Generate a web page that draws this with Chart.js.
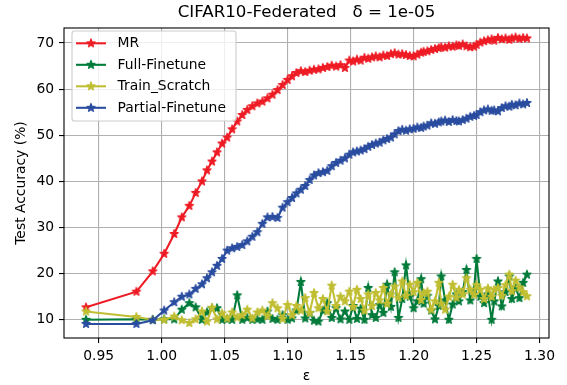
<!DOCTYPE html>
<html><head><meta charset="utf-8">
<script src="https://cdn.jsdelivr.net/npm/chart.js@4.4.1/dist/chart.umd.min.js"></script>
<style>html,body{margin:0;padding:0;background:#fff;}canvas{display:block;}</style>
</head><body>
<canvas id="c" width="567" height="385"></canvas>
<script>
const epsilon = [0.940,0.980,0.993,1.002,1.010,1.016,1.022,1.027,1.032,1.036,1.040,1.044,1.048,1.052,1.056,1.060,1.064,1.068,1.072,1.076,1.080,1.084,1.088,1.092,1.096,1.100,
1.1035,1.107,1.1105,1.114,1.1175,1.121,1.1245,1.128,1.1315,1.135,1.1385,1.142,1.1455,1.149,
1.152,1.155,1.158,1.161,1.164,1.167,1.170,1.173,1.176,1.179,1.182,1.185,1.188,1.191,1.194,1.197,1.200,
1.203,1.206,1.208,1.211,1.214,1.217,1.220,1.222,1.225,1.228,1.231,1.234,1.236,1.239,1.242,1.245,1.248,1.250,1.253,1.256,1.259,1.262,1.264,1.267,1.270,1.273,1.276,1.278,1.281,1.284,1.287,1.290];
const mr = [12.7,16.1,20.5,24.3,28.6,32.2,34.7,37.5,40.0,42.4,44.3,46.3,48.2,49.5,51.3,53.0,54.4,55.5,56.3,56.9,57.3,58.0,58.8,59.8,60.9,62.0,
62.8,63.5,63.9,63.7,64.0,64.2,64.3,64.6,64.8,65.1,64.9,65.2,64.6,66.2,
66.0,66.4,66.2,66.8,66.6,66.9,67.1,66.9,67.3,67.2,67.6,67.8,67.5,67.6,67.4,67.2,67.1,
67.5,67.9,68.1,68.2,68.5,68.7,68.9,69.1,69.0,69.3,69.2,69.5,69.4,69.7,69.3,69.1,69.2,69.6,70.1,70.4,70.6,70.8,70.5,71.1,70.8,71.0,70.7,71.0,71.2,70.9,71.1,71.0];
const fullFinetune = [10.0,10.1,10.0,10.1,10.1,12.2,13.6,12.7,10.0,11.6,12.5,12.5,10.0,10.1,10.0,15.3,10.0,10.4,10.0,10.1,10.0,11.8,10.2,10.0,11.0,10.0,
10.3,12.0,18.2,10.3,11.5,9.8,9.6,12.0,13.6,10.4,12.5,10.1,11.8,10.0,
13.0,10.2,12.4,10.0,16.9,11.0,10.4,13.2,11.5,17.6,12.8,20.3,10.4,14.5,21.8,15.0,12.5,
14.0,18.8,13.5,15.2,12.0,10.1,13.0,19.4,14.2,10.0,13.3,15.5,14.0,16.0,20.8,14.2,16.5,23.2,15.0,13.6,15.5,10.0,14.0,18.3,12.9,16.0,19.4,14.5,17.0,14.7,18.0,19.8];
const trainScratch = [11.8,10.6,10.0,10.0,10.7,9.9,9.3,10.1,11.8,9.6,12.6,10.1,11.4,10.3,11.6,10.5,11.0,12.2,10.3,11.6,12.0,10.8,13.6,12.5,10.2,13.2,
11.0,13.0,12.0,14.7,11.5,15.8,12.5,14.5,11.8,17.4,13.0,15.0,14.0,16.1,
12.8,16.5,14.5,12.0,15.5,13.0,15.8,14.2,16.9,13.5,15.5,17.2,14.8,18.3,15.2,17.6,16.0,
18.0,14.3,15.8,16.1,12.2,14.0,18.0,13.5,12.2,15.0,17.6,14.8,16.5,15.5,19.0,16.5,15.4,17.5,16.5,14.5,16.8,15.0,16.5,16.9,15.2,17.5,19.8,16.2,18.5,17.0,16.0,15.1];
const partialFinetune = [9.1,9.1,9.9,12.0,13.8,15.0,15.5,16.7,17.7,19.0,20.3,21.7,23.2,25.0,25.5,25.8,26.2,27.0,28.0,29.0,30.8,32.2,32.3,32.1,34.3,35.5,
36.4,37.4,38.2,39.0,40.3,41.3,41.8,42.0,42.3,43.3,44.0,44.5,45.0,45.8,
46.3,46.5,46.7,47.0,47.5,47.9,48.2,48.4,48.9,49.2,49.5,50.2,50.9,51.2,51.0,51.3,51.4,
51.7,51.6,51.9,52.1,52.6,52.5,52.8,53.0,53.2,52.9,53.3,53.1,53.0,53.3,53.6,54.0,54.2,54.4,55.0,55.4,55.6,55.3,55.4,55.2,55.9,56.3,56.2,56.6,56.5,56.9,56.7,57.0];
const xTicks = [0.95,1.00,1.05,1.10,1.15,1.20,1.25,1.30];
const yTicks = [10,20,30,40,50,60,70];
const seriesNames = ['MR','Full-Finetune','Train_Scratch','Partial-Finetune'];
const seriesColors = ['#ee1c25','#007b3a','#c0be32','#2a4da0'];
const titleText = 'CIFAR10-Federated   \u03b4 = 1e-05';
const xLabel = '\u03b5';
const yLabel = 'Test Accuracy (%)';

const FONT = '"DejaVu Sans", "Liberation Sans", sans-serif';

function starImage(color){
  const s = 16, c = document.createElement('canvas');
  c.width = s; c.height = s;
  const g = c.getContext('2d');
  const R = 4.17, r = R * 0.381966;
  g.beginPath();
  for (let k = 0; k < 10; k++) {
    const ang = -Math.PI/2 + k*Math.PI/5;
    const rad = k % 2 === 0 ? R : r;
    const px = s/2 + rad*Math.cos(ang), py = s/2 + rad*Math.sin(ang);
    if (k === 0) g.moveTo(px, py); else g.lineTo(px, py);
  }
  g.closePath();
  g.fillStyle = color; g.fill();
  g.lineWidth = 1.39; g.lineJoin = 'round'; g.strokeStyle = color; g.stroke();
  return c;
}
const stars = seriesColors.map(starImage);
const seriesValues = [mr, fullFinetune, trainScratch, partialFinetune];

const datasets = seriesValues.map((vals, i) => ({
  label: seriesNames[i],
  data: epsilon.map((x, j) => ({x: x, y: vals[j]})),
  borderColor: seriesColors[i],
  backgroundColor: seriesColors[i],
  borderWidth: 2.08,
  tension: 0,
  pointStyle: stars[i],
  pointRadius: 4,
  pointHoverRadius: 4,
  order: 3 - i
}));

const decor = {
  id: 'decor',
  afterDraw(chart) {
    const ctx = chart.ctx, a = chart.chartArea;
    ctx.save();
    ctx.strokeStyle = '#000'; ctx.lineWidth = 1.1;
    ctx.strokeRect(a.left, a.top, a.right - a.left, a.bottom - a.top);
    ctx.fillStyle = '#000';
    ctx.font = '16.67px ' + FONT;
    ctx.textAlign = 'center'; ctx.textBaseline = 'alphabetic';
    ctx.fillText(titleText, (a.left + a.right)/2, a.top - 11);
    const lx = a.left + 8, ly = a.top + 3, lw = 164, lh = 90, rad = 2.8;
    ctx.beginPath();
    ctx.moveTo(lx + rad, ly);
    ctx.arcTo(lx + lw, ly, lx + lw, ly + lh, rad);
    ctx.arcTo(lx + lw, ly + lh, lx, ly + lh, rad);
    ctx.arcTo(lx, ly + lh, lx, ly, rad);
    ctx.arcTo(lx, ly, lx + lw, ly, rad);
    ctx.closePath();
    ctx.fillStyle = 'rgba(255,255,255,0.8)'; ctx.fill();
    ctx.strokeStyle = '#cccccc'; ctx.lineWidth = 1.1; ctx.stroke();
    ctx.font = '13.89px ' + FONT;
    ctx.textAlign = 'left'; ctx.textBaseline = 'middle';
    seriesNames.forEach((name, i) => {
      const y = ly + 12.3 + i*21.5;
      ctx.strokeStyle = seriesColors[i]; ctx.lineWidth = 2.08;
      ctx.beginPath(); ctx.moveTo(lx + 4, y); ctx.lineTo(lx + 34, y); ctx.stroke();
      ctx.drawImage(stars[i], lx + 19 - 8, y - 8);
      ctx.fillStyle = '#000';
      ctx.fillText(name, lx + 45.6, y + 0.5);
    });
    ctx.restore();
  }
};

new Chart(document.getElementById('c'), {
  type: 'line',
  data: { datasets: datasets },
  options: {
    responsive: false,
    animation: false,
    devicePixelRatio: 1,
    layout: { padding: { left: 0, right: 18, top: 28, bottom: 0 } },
    plugins: { legend: { display: false }, title: { display: false }, tooltip: { enabled: false } },
    scales: {
      x: {
        type: 'linear', min: 0.9225, max: 1.3075,
        afterBuildTicks: s => { s.ticks = xTicks.map(v => ({value: v})); },
        afterFit: s => { s.height = 47; },
        grid: { color: '#b0b0b0', lineWidth: 1.1, drawTicks: true, tickLength: 5, tickColor: '#000', tickWidth: 1.1 },
        border: { display: false },
        ticks: { color: '#000', font: { family: FONT, size: 13.89 }, padding: 4.9, maxRotation: 0, autoSkip: false,
                 callback: v => Number(v).toFixed(2) },
        title: { display: true, text: xLabel, color: '#000', font: { family: FONT, size: 13.89 }, padding: { top: 0, bottom: 0 } }
      },
      y: {
        type: 'linear', min: 6.05, max: 73.25,
        afterBuildTicks: s => { s.ticks = yTicks.map(v => ({value: v})); },
        afterFit: s => { s.width = 64; },
        grid: { color: '#b0b0b0', lineWidth: 1.1, drawTicks: true, tickLength: 5, tickColor: '#000', tickWidth: 1.1 },
        border: { display: false },
        ticks: { color: '#000', font: { family: FONT, size: 13.89 }, padding: 4.9, autoSkip: false,
                 callback: v => String(v) },
        title: { display: true, text: yLabel, color: '#000', font: { family: FONT, size: 13.89 }, padding: { top: 13, bottom: 0 } }
      }
    }
  },
  plugins: [decor]
});
</script>
</body></html>
